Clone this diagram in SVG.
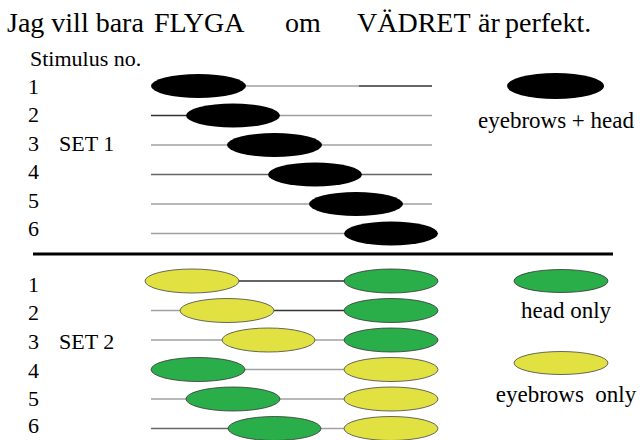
<svg xmlns="http://www.w3.org/2000/svg" width="640" height="440" viewBox="0 0 640 440">
<style>
text{font-family:"Liberation Serif","Times New Roman","DejaVu Serif",serif;fill:#000}
.t{font-size:28px}
.n{font-size:22px}
.lg{font-size:23px}
.bk{fill:#000}
.ye{fill:#e1e142;stroke:#444;stroke-width:0.8}
.gr{fill:#2aae4a;stroke:#333;stroke-width:0.8}
.lg1{stroke:#a0a0a0;stroke-width:1.5}
.ld{stroke:#333;stroke-width:1.5}
.lm{stroke:#666;stroke-width:1.5}
</style>
<rect width="640" height="440" fill="#fff"/>
<g id="title" font-family="Liberation Serif, serif">
<text class="t" x="7" y="32">Jag vill bara</text>
<text class="t" x="154" y="32">FLYGA</text>
<text class="t" x="285" y="32">om</text>
<text class="t" x="357" y="32">VÄDRET</text>
<text class="t" x="478" y="32">är</text>
<text class="t" x="505" y="32">perfekt.</text>
</g>
<g id="labels">
<text class="n" x="30" y="66">Stimulus no.</text>
<text class="n" x="28" y="93.5">1</text>
<text class="n" x="28" y="122">2</text>
<text class="n" x="28" y="151">3</text>
<text class="n" x="59" y="151">SET 1</text>
<text class="n" x="28" y="179">4</text>
<text class="n" x="28" y="207.5">5</text>
<text class="n" x="28" y="236">6</text>
<text class="n" x="28" y="292">1</text>
<text class="n" x="28" y="320">2</text>
<text class="n" x="28" y="349">3</text>
<text class="n" x="59" y="349">SET 2</text>
<text class="n" x="28" y="378">4</text>
<text class="n" x="28" y="406">5</text>
<text class="n" x="28" y="433">6</text>
</g>
<g id="connectors">
<line class="lg1" x1="245" y1="86" x2="359" y2="86"/>
<line class="ld" x1="359" y1="86" x2="432" y2="86"/>
<line class="ld" x1="151" y1="115.5" x2="190" y2="115.5"/>
<line class="lg1" x1="276" y1="115.5" x2="432" y2="115.5"/>
<line class="lg1" x1="151" y1="145" x2="432" y2="145"/>
<line class="lm" x1="151" y1="174.5" x2="432" y2="174.5"/>
<line class="lg1" x1="151" y1="204" x2="432" y2="204"/>
<line class="lg1" x1="151" y1="233.5" x2="360" y2="233.5"/>
<line x1="33" y1="254" x2="613" y2="254" stroke="#000" stroke-width="3"/>
<line class="ld" x1="236" y1="281" x2="346" y2="281"/>
<line class="lg1" x1="151" y1="310.5" x2="184" y2="310.5"/>
<line class="ld" x1="270" y1="310.5" x2="346" y2="310.5"/>
<line class="lg1" x1="151" y1="340" x2="226" y2="340"/>
<line class="lg1" x1="311" y1="340" x2="346" y2="340"/>
<line class="lg1" x1="241" y1="369.5" x2="346" y2="369.5"/>
<line class="lg1" x1="151" y1="399" x2="190" y2="399"/>
<line class="lg1" x1="276" y1="399" x2="346" y2="399"/>
<line class="lm" x1="151" y1="428.5" x2="232" y2="428.5"/>
<line class="lg1" x1="317" y1="428.5" x2="346" y2="428.5"/>
</g>
<g id="set1">
<ellipse class="bk" cx="198.5" cy="86" rx="47.5" ry="12"/>
<ellipse class="bk" cx="233" cy="115.5" rx="47" ry="12"/>
<ellipse class="bk" cx="274.5" cy="145" rx="47.5" ry="12"/>
<ellipse class="bk" cx="315" cy="174.5" rx="47" ry="12"/>
<ellipse class="bk" cx="356" cy="204" rx="47" ry="12"/>
<ellipse class="bk" cx="391" cy="233.5" rx="47" ry="12"/>
</g>
<g id="set2">
<ellipse class="ye" cx="192" cy="281" rx="47" ry="12"/>
<ellipse class="gr" cx="391" cy="281" rx="47" ry="12"/>
<ellipse class="ye" cx="227" cy="310.5" rx="47" ry="12"/>
<ellipse class="gr" cx="391" cy="310.5" rx="47" ry="12"/>
<ellipse class="ye" cx="268.5" cy="340" rx="46.5" ry="12"/>
<ellipse class="gr" cx="391" cy="340" rx="47" ry="12"/>
<ellipse class="gr" cx="198" cy="369.5" rx="47" ry="12"/>
<ellipse class="ye" cx="391" cy="369.5" rx="47" ry="12"/>
<ellipse class="gr" cx="233" cy="399" rx="47" ry="12"/>
<ellipse class="ye" cx="391" cy="399" rx="47" ry="12"/>
<ellipse class="gr" cx="274.5" cy="428.5" rx="46.5" ry="12"/>
<ellipse class="ye" cx="391" cy="428.5" rx="47" ry="12"/>
</g>
<g id="legend-both">
<ellipse class="bk" cx="555.5" cy="86" rx="48.5" ry="13"/>
<text class="lg" x="556" y="128" text-anchor="middle">eyebrows + head</text>
</g>
<g id="legend-head">
<ellipse class="gr" cx="561" cy="281" rx="47" ry="11.5"/>
<text class="lg" x="566" y="318" text-anchor="middle">head only</text>
</g>
<g id="legend-eyebrows">
<ellipse class="ye" cx="561" cy="363" rx="47" ry="11.5"/>
<text class="lg" x="566" y="402" text-anchor="middle" style="white-space:pre">eyebrows  only</text>
</g>
</svg>
